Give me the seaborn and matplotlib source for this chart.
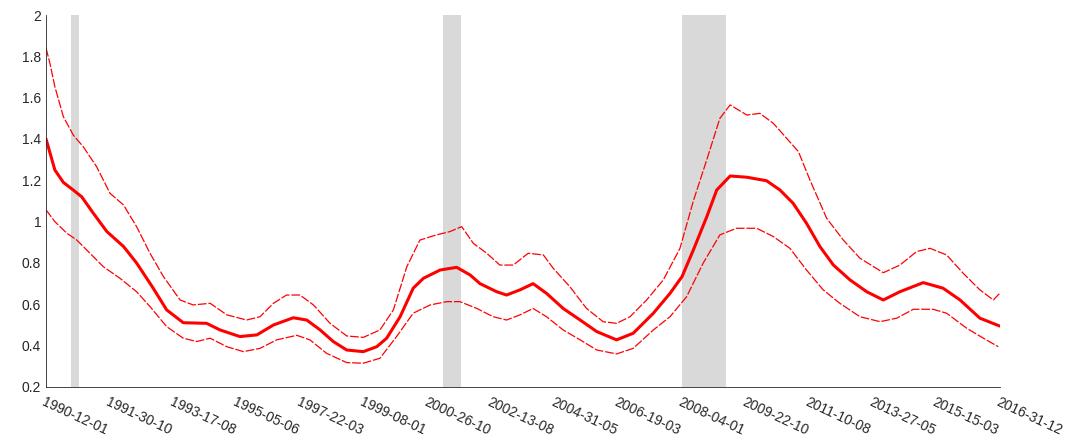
import pandas as pd
import numpy as np
import seaborn as sns
import matplotlib.pyplot as plt
from matplotlib.ticker import FuncFormatter

# tick labels exactly as printed on the chart (year-day-month)
tick_labels = ['1990-12-01', '1991-30-10', '1993-17-08', '1995-05-06', '1997-22-03',
               '1999-08-01', '2000-26-10', '2002-13-08', '2004-31-05', '2006-19-03',
               '2008-04-01', '2009-22-10', '2011-10-08', '2013-27-05', '2015-15-03',
               '2016-31-12']

# shaded periods (decimal years)
band_start = [1990.74, 2001.25, 2008.01]
band_end = [1990.96, 2001.76, 2009.25]

# middle estimate
mid_year = [1990.03, 1990.28, 1990.52, 1990.80, 1991.04, 1991.37, 1991.75, 1992.22,
            1992.59, 1993.06, 1993.44, 1993.91, 1994.57, 1994.95, 1995.51, 1995.99,
            1996.46, 1997.02, 1997.40, 1997.78, 1998.15, 1998.53, 1999.00, 1999.38,
            1999.66, 2000.04, 2000.41, 2000.70, 2001.17, 2001.64, 2002.02, 2002.30,
            2002.77, 2003.05, 2003.43, 2003.80, 2004.18, 2004.65, 2005.13, 2005.60,
            2006.16, 2006.63, 2007.20, 2007.67, 2008.01, 2008.33, 2008.71, 2008.99,
            2009.37, 2009.84, 2010.40, 2010.78, 2011.15, 2011.53, 2011.91, 2012.29,
            2012.76, 2013.23, 2013.70, 2014.17, 2014.83, 2015.39, 2015.87, 2016.43,
            2016.99]
mid_val = [1.40, 1.25, 1.19, 1.153, 1.12, 1.04, 0.952, 0.88,
           0.80, 0.678, 0.573, 0.511, 0.508, 0.476, 0.444, 0.452,
           0.50, 0.535, 0.524, 0.476, 0.42, 0.379, 0.371, 0.395,
           0.436, 0.54, 0.678, 0.726, 0.766, 0.779, 0.742, 0.70,
           0.661, 0.645, 0.67, 0.70, 0.653, 0.58, 0.524, 0.468,
           0.428, 0.46, 0.557, 0.653, 0.734, 0.863, 1.024, 1.153,
           1.221, 1.215, 1.198, 1.153, 1.089, 0.992, 0.879, 0.79,
           0.718, 0.661, 0.621, 0.661, 0.705, 0.678, 0.621, 0.533,
           0.495]

# upper band
up_year = [1990.03, 1990.14, 1990.28, 1990.52, 1990.80, 1991.08, 1991.46, 1991.84,
           1992.22, 1992.59, 1992.97, 1993.35, 1993.82, 1994.19, 1994.67, 1995.14,
           1995.70, 1996.08, 1996.46, 1996.83, 1997.21, 1997.59, 1998.06, 1998.53,
           1999.00, 1999.47, 1999.85, 2000.23, 2000.60, 2001.07, 2001.45, 2001.78,
           2002.11, 2002.49, 2002.86, 2003.24, 2003.66, 2004.09, 2004.37, 2004.84,
           2005.31, 2005.78, 2006.16, 2006.54, 2007.01, 2007.48, 2007.95, 2008.33,
           2008.71, 2009.08, 2009.37, 2009.84, 2010.21, 2010.59, 2010.97, 2011.30,
           2011.63, 2012.10, 2012.57, 2013.04, 2013.70, 2014.17, 2014.64, 2015.02,
           2015.49, 2015.96, 2016.43, 2016.81, 2016.99]
up_val = [1.84, 1.766, 1.653, 1.508, 1.419, 1.363, 1.266, 1.137,
          1.081, 0.976, 0.847, 0.734, 0.621, 0.597, 0.605, 0.549,
          0.524, 0.54, 0.605, 0.645, 0.645, 0.597, 0.508, 0.447,
          0.44, 0.476, 0.573, 0.782, 0.911, 0.936, 0.952, 0.976,
          0.895, 0.847, 0.79, 0.79, 0.847, 0.839, 0.774, 0.685,
          0.58, 0.516, 0.508, 0.54, 0.621, 0.718, 0.87, 1.10,
          1.30, 1.50, 1.565, 1.516, 1.524, 1.476, 1.403, 1.339,
          1.20, 1.016, 0.911, 0.823, 0.753, 0.79, 0.855, 0.871,
          0.839, 0.75, 0.67, 0.621, 0.653]

# lower band
lo_year = [1990.03, 1990.28, 1990.62, 1990.90, 1991.18, 1991.65, 1992.12, 1992.59,
           1992.97, 1993.44, 1993.91, 1994.29, 1994.67, 1995.14, 1995.61, 1996.08,
           1996.55, 1997.12, 1997.49, 1997.96, 1998.53, 1999.00, 1999.47, 1999.94,
           2000.41, 2000.89, 2001.36, 2001.73, 2002.21, 2002.67, 2003.05, 2003.43,
           2003.80, 2004.18, 2004.65, 2005.13, 2005.60, 2006.16, 2006.63, 2007.20,
           2007.67, 2008.14, 2008.61, 2009.08, 2009.55, 2010.12, 2010.59, 2011.06,
           2011.53, 2012.00, 2012.47, 2013.04, 2013.61, 2014.08, 2014.55, 2015.11,
           2015.49, 2016.06, 2016.53, 2016.95]
lo_val = [1.057, 1.0, 0.944, 0.911, 0.863, 0.782, 0.726, 0.661,
          0.589, 0.492, 0.436, 0.42, 0.436, 0.395, 0.371, 0.387,
          0.428, 0.45, 0.428, 0.363, 0.318, 0.315, 0.339, 0.444,
          0.557, 0.597, 0.613, 0.613, 0.58, 0.54, 0.524, 0.549,
          0.58, 0.54, 0.476, 0.428, 0.379, 0.36, 0.387, 0.476,
          0.54, 0.637, 0.80, 0.936, 0.968, 0.968, 0.928, 0.871,
          0.766, 0.67, 0.605, 0.54, 0.516, 0.533, 0.576, 0.576,
          0.557, 0.484, 0.436, 0.395]

sns.set_style('white')
plt.rcParams['font.family'] = ['Liberation Sans', 'DejaVu Sans']

fig = plt.figure(figsize=(10.73, 4.48), dpi=100)
ax = fig.add_axes([0.0429, 0.1362, 0.889, 0.8303])

for a, b in zip(band_start, band_end):
    ax.axvspan(a, b, color='#d9d9d9', lw=0, zorder=0)

sns.lineplot(x=up_year, y=up_val, color='red', lw=0.9, linestyle=(0, (7, 1.5)), ax=ax)
sns.lineplot(x=lo_year, y=lo_val, color='red', lw=0.9, linestyle=(0, (7, 1.5)), ax=ax)
sns.lineplot(x=mid_year, y=mid_val, color='red', lw=2.2, ax=ax)

# tick positions from the printed dates
d = pd.to_datetime(tick_labels, format='%Y-%d-%m')
tick_pos = d.year + (d.dayofyear - 1) / np.where(d.is_leap_year, 366, 365)

ax.set_xlim(tick_pos[0], tick_pos[-1])
ax.set_ylim(0.2, 2)
ax.set_xticks(tick_pos)
ax.set_xticklabels(tick_labels, rotation=-25, ha='left', va='top', rotation_mode='anchor')
ax.set_yticks(np.arange(0.2, 2.01, 0.2))
ax.yaxis.set_major_formatter(FuncFormatter(lambda v, p: f'{v:g}'))
ax.set_xlabel('')
ax.set_ylabel('')

ax.tick_params(direction='in', length=6.5, width=0.6, colors='#262626', labelsize=10)
ax.tick_params(axis='x', pad=6)
for s in ['top', 'right']:
    ax.spines[s].set_visible(False)
for s in ['left', 'bottom']:
    ax.spines[s].set_color('#262626')
    ax.spines[s].set_linewidth(0.6)

fig.savefig('out.png', dpi=100)
